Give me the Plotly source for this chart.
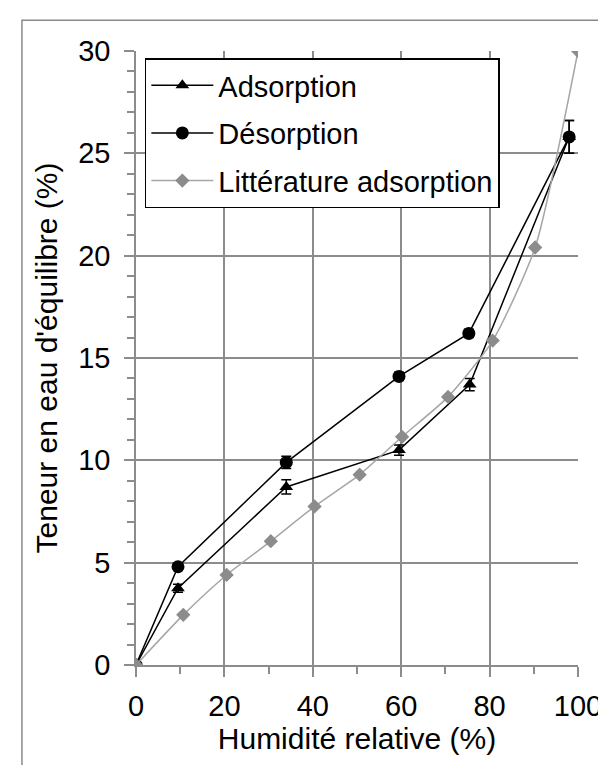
import plotly.graph_objects as go

# --- data ---
rh_ads = [0, 9.5, 34, 59.5, 75.5, 98]
ads = [0, 3.75, 8.7, 10.5, 13.7, 25.8]
ads_err = [0, 0.2, 0.35, 0.25, 0.3, 0.8]

rh_des = [0, 9.5, 34, 59.5, 75.3, 98]
des = [0, 4.8, 9.9, 14.1, 16.2, 25.8]
des_err = [0, 0.15, 0.3, 0.2, 0.2, 0.8]

rh_lit = [0, 10.7, 20.5, 30.5, 40.4, 50.6, 60.2, 70.6, 80.7, 90.3, 100]
lit = [0, 2.45, 4.4, 6.05, 7.75, 9.3, 11.15, 13.1, 15.85, 20.4, 30]

x_ticks = [0, 20, 40, 60, 80, 100]
y_ticks = [0, 5, 10, 15, 20, 25, 30]

FONT = "Liberation Sans, Arial, sans-serif"
FS = 29
GRID = "#8c8c8c"

fig = go.Figure()
fig.add_trace(go.Scatter(
    x=rh_ads, y=ads, name="Adsorption", legendgroup="a", mode="lines+markers",
    line=dict(color="black", width=1.5),
    marker=dict(symbol="triangle-up", size=12, color="black"),
    error_y=dict(type="data", array=ads_err, visible=True, color="black", thickness=1.5, width=5),
))
fig.add_trace(go.Scatter(
    x=rh_des, y=des, name="Désorption", legendgroup="b", mode="lines+markers",
    line=dict(color="black", width=1.5),
    marker=dict(symbol="circle", size=13, color="black"),
    error_y=dict(type="data", array=des_err, visible=True, color="black", thickness=1.5, width=5),
))
fig.add_trace(go.Scatter(
    x=rh_lit, y=lit, name="Littérature adsorption", legendgroup="c", mode="lines+markers",
    line=dict(color="#a6a6a6", width=1.5, shape="spline", smoothing=0.6),
    marker=dict(symbol="diamond", size=11, color="#8c8c8c"),
))

fig.update_layout(
    width=606, height=765,
    margin=dict(l=128, r=32, t=43, b=108),
    paper_bgcolor="white", plot_bgcolor="white",
    font=dict(family=FONT, size=FS, color="black"),
    showlegend=True,
    legend=dict(
        x=0.02, y=0.988, xanchor="left", yanchor="top",
        bgcolor="white", bordercolor="black", borderwidth=1.5,
        font=dict(family=FONT, size=FS, color="black"),
        traceorder="grouped", tracegroupgap=7,
        itemwidth=62,
    ),
    shapes=[dict(type="rect", xref="paper", yref="paper",
                 x0=-0.258, x1=2.0, y0=-1.0, y1=1.05,
                 line=dict(color="#8a8a8a", width=1.5), layer="below")],
)

fig.update_xaxes(
    range=[0, 100], tickvals=x_ticks, ticktext=[str(v) for v in x_ticks],
    showgrid=True, gridcolor=GRID, gridwidth=1.5,
    showline=True, linecolor=GRID, linewidth=1.5,
    ticks="outside", ticklen=10, tickcolor=GRID, tickwidth=1.5,
    minor=dict(dtick=10, ticks="outside", ticklen=7, tickcolor=GRID, tickwidth=1.5, showgrid=False),
    zeroline=False, ticklabelstandoff=4,
    title=dict(text="Humidité relative (%)", font=dict(size=30), standoff=4),
    tickfont=dict(size=FS),
)
fig.update_yaxes(
    range=[0, 30], tickvals=y_ticks, ticktext=[str(v) for v in y_ticks],
    showgrid=True, gridcolor=GRID, gridwidth=1.5,
    showline=True, linecolor=GRID, linewidth=1.5,
    ticks="outside", ticklen=10, tickcolor=GRID, tickwidth=1.5,
    minor=dict(dtick=1, ticks="outside", ticklen=7, tickcolor=GRID, tickwidth=1.5, showgrid=False),
    zeroline=False, ticklabelstandoff=8,
    title=dict(text="Teneur en eau d'équilibre (%)", font=dict(size=30), standoff=12),
    tickfont=dict(size=FS),
)

fig.write_html("out.html")
